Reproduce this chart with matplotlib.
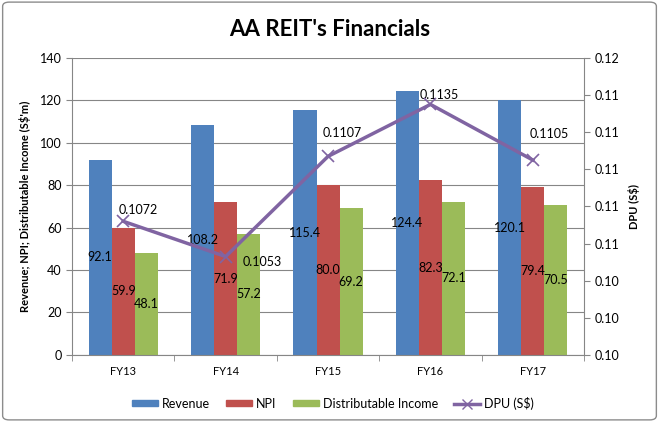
import numpy as np
import matplotlib.pyplot as plt
from matplotlib.patches import FancyBboxPatch
from matplotlib.lines import Line2D
from matplotlib.patches import Patch

plt.rcParams['font.family'] = ['Lato', 'DejaVu Sans']

years = ['FY13', 'FY14', 'FY15', 'FY16', 'FY17']
revenue = [92.1, 108.2, 115.4, 124.4, 120.1]
npi = [59.9, 71.9, 80.0, 82.3, 79.4]
dist_income = [48.1, 57.2, 69.2, 72.1, 70.5]
dpu = [0.1072, 0.1053, 0.1107, 0.1135, 0.1105]

# label offsets for the DPU labels (points)
dpu_offsets = [(11, 8), (26, -4), (10, 17), (6, 7), (12, 19)]

c_rev, c_npi, c_di, c_dpu = '#4F81BD', '#C0504D', '#9BBB59', '#8064A2'

fig = plt.figure(figsize=(6.59, 4.22), dpi=100)
fig.patches.append(FancyBboxPatch((0.004, 0.005), 0.992, 0.99,
                                  boxstyle='round,pad=0,rounding_size=0.01',
                                  transform=fig.transFigure, fill=False,
                                  edgecolor='#8c8c8c', linewidth=1))
ax = fig.add_axes([0.1093, 0.159, 0.777, 0.7035])

x = np.arange(len(years))
w = 0.225
ax.bar(x - w, revenue, w, color=c_rev, zorder=2)
ax.bar(x, npi, w, color=c_npi, zorder=2)
ax.bar(x + w, dist_income, w, color=c_di, zorder=2)

for vals, off in [(revenue, -w), (npi, 0), (dist_income, w)]:
    for i, v in enumerate(vals):
        ax.text(i + off, v / 2, f'{v:.1f}', ha='center', va='center',
                fontsize=9, color='black', zorder=5)

ax.set_xlim(-0.5, len(years) - 0.5)
ax.set_ylim(0, 140)
ax.set_yticks(np.arange(0, 141, 20))
ax.set_xticks(x)
ax.set_xticklabels(years)
ax.set_xticks(np.arange(-0.5, len(years), 1), minor=True)
ax.tick_params(axis='x', which='major', length=0, labelsize=8, pad=8)
ax.tick_params(axis='x', which='minor', length=4, color='#868686')
ax.tick_params(axis='y', length=4, color='#868686', labelsize=9)
ax.grid(axis='y', color='#868686', linewidth=0.8, zorder=0)
for s in ['top', 'right']:
    ax.spines[s].set_visible(False)
for s in ['left', 'bottom']:
    ax.spines[s].set_color('#868686')
ax.set_ylabel("Revenue; NPI; Distributable Income (S$'m)", fontsize=8,
              fontweight='bold', labelpad=6)

ax2 = ax.twinx()
ax2.plot(x, dpu, color=c_dpu, linewidth=2.5, marker='x', markersize=9,
         markeredgewidth=1.2, zorder=4)
for i, v in enumerate(dpu):
    ax2.annotate(f'{v:.4f}', (x[i], v), xytext=dpu_offsets[i],
                 textcoords='offset points', ha='center', va='center',
                 fontsize=9)
ax2.set_ylim(0.100, 0.116)
ticks2 = np.arange(0.100, 0.1161, 0.002)
ax2.set_yticks(ticks2)
ax2.set_yticklabels([f'{t:.2f}' for t in ticks2])
ax2.tick_params(axis='y', length=4, color='#868686', labelsize=9)
for s in ['top', 'left', 'bottom']:
    ax2.spines[s].set_visible(False)
ax2.spines['right'].set_color('#868686')
ax2.set_ylabel('DPU (S$)', fontsize=8, fontweight='bold', labelpad=6)

fig.suptitle("AA REIT's Financials", fontsize=16, fontweight='bold',
             y=0.955)

handles = [Patch(color=c_rev, label='Revenue'),
           Patch(color=c_npi, label='NPI'),
           Patch(color=c_di, label='Distributable Income'),
           Line2D([], [], color=c_dpu, linewidth=2.5, marker='x',
                  markersize=7, label='DPU (S$)')]
fig.legend(handles=handles, loc='center', bbox_to_anchor=(0.505, 0.045),
           ncol=4, frameon=False, fontsize=9, handlelength=2.1,
           handleheight=0.4, columnspacing=1.3, handletextpad=0.3)

fig.savefig('out.png', dpi=100)
